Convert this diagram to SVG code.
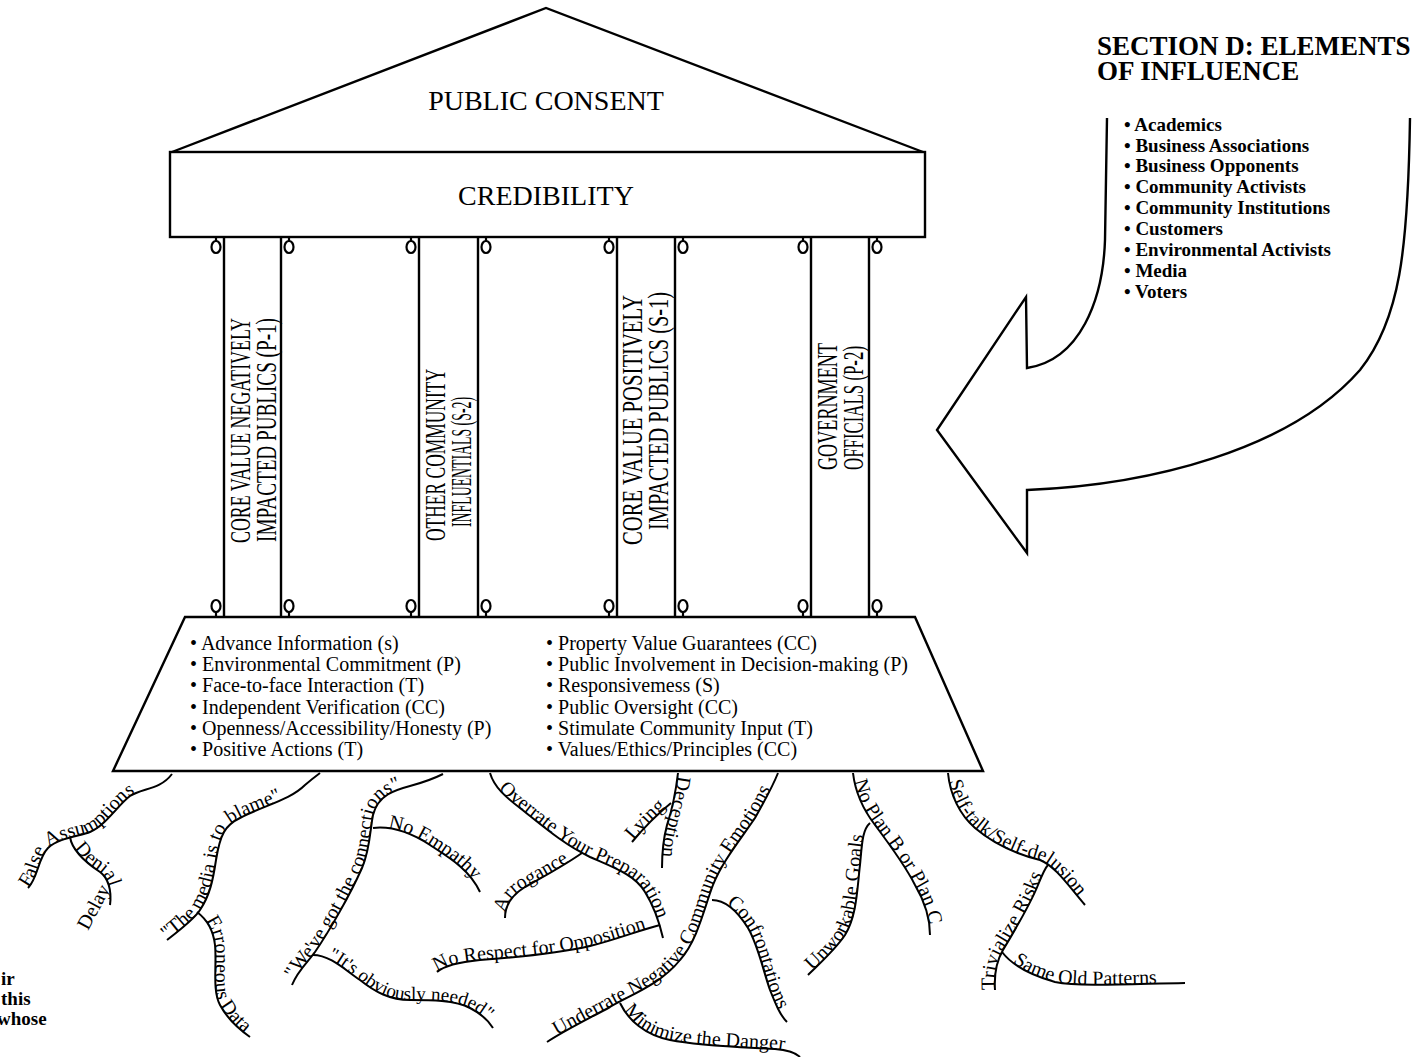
<svg xmlns="http://www.w3.org/2000/svg" xmlns:xlink="http://www.w3.org/1999/xlink" width="1420" height="1057" viewBox="0 0 1420 1057">
<style>
.ln{fill:none;stroke:#000;stroke-width:2.4;stroke-linejoin:miter}
.root{fill:none;stroke:#000;stroke-width:2}
.hk{fill:none;stroke:#000;stroke-width:2.2}
text{font-family:"Liberation Serif","Times New Roman",serif;fill:#000}
.rt{font-size:20px}
.col{font-size:29px}
.bt{font-size:20px}
.hd{font-size:27px;font-weight:bold}
.li{font-size:19px;font-weight:bold}
.big{font-size:28px}
</style>
<defs>
<g id="hkT"><line x1="0" y1="237" x2="0" y2="241" class="hk"/><ellipse cx="0" cy="247" rx="4.5" ry="6" class="hk"/></g>
<g id="hkB"><ellipse cx="0" cy="606" rx="4.5" ry="6" class="hk"/><line x1="0" y1="612" x2="0" y2="617" class="hk"/></g>
<path id="r_false" d="M28,888 C38,878 38,858 48,848 C58,838 80,836 90,832 C105,826 118,805 130,796 C142,788 160,790 172,774"/>
<path id="r_denial" d="M70,837 C72,850 85,862 100,872 C108,878 112,890 110,905"/>
<path id="r_media" d="M167,940 C180,930 195,918 200,910 C210,895 213,880 216,860 C220,835 225,825 240,818 C265,805 290,800 305,785 C312,779 316,776 320,773"/>
<path id="r_erroneous" d="M197,912 C205,918 213,928 215,945 C217,965 212,990 220,1005 C228,1020 240,1030 250,1037"/>
<path id="r_connections" d="M292,985 C298,970 308,962 315,952 C330,930 350,895 362,868 C370,850 370,830 373,815 C378,795 395,790 410,786 C425,782 435,778 443,774"/>
<path id="r_empathy" d="M373,828 C390,826 410,832 430,845 C450,858 470,870 480,892"/>
<path id="r_needed" d="M313,955 C330,955 345,970 360,980 C375,992 390,1000 410,1000 C430,1000 455,1000 470,1008 C480,1013 488,1020 493,1028"/>
<path id="r_overrate" d="M490,773 C495,790 510,800 525,812 C545,828 565,845 590,857 C615,868 635,875 645,892 C655,908 660,925 663,938"/>
<path id="r_arrogance" d="M505,918 C505,905 512,895 525,887 C545,876 565,865 582,853"/>
<path id="r_respect" d="M437,972 C445,965 460,962 480,960 C520,957 560,953 590,946 C615,940 640,930 660,925"/>
<path id="r_lying" d="M632,842 C642,830 655,816 671,803"/>
<path id="r_deception" d="M678,773 C676,790 672,810 667,825 C663,840 662,855 662,868"/>
<path id="r_underrate" d="M547,1042 C565,1030 590,1018 610,1007 C630,995 660,985 680,960 C698,940 705,905 713,885 C722,862 740,840 755,818 C765,800 772,788 778,773"/>
<path id="r_minimize" d="M620,1003 C628,1020 645,1035 670,1040 C700,1046 740,1047 775,1049 C788,1050 796,1053 800,1057"/>
<path id="r_confront" d="M712,900 C725,900 738,912 748,928 C758,945 763,970 770,990 C776,1005 780,1015 787,1022"/>
<path id="r_planb" d="M853,773 C855,790 862,808 875,825 C890,845 905,865 915,885 C925,902 930,918 930,935"/>
<path id="r_unworkable" d="M808,975 C818,965 835,950 845,935 C857,915 857,890 860,865 C862,845 862,830 870,823"/>
<path id="r_self" d="M948,773 C950,795 960,815 975,828 C995,845 1020,855 1040,860 C1055,866 1068,885 1085,905"/>
<path id="r_trivial" d="M995,990 C994,975 996,962 1003,950 C1015,930 1030,905 1038,885 C1042,875 1045,868 1048,865"/>
<path id="r_same" d="M1002,952 C1012,965 1030,975 1055,982 C1080,987 1130,984 1185,983"/>
</defs>
<rect x="0" y="0" width="1420" height="1057" fill="#fff"/>

<g id="roof">
<polyline class="ln" points="172,152 546,8 923,152"/>
<text class="big" x="546" y="110" text-anchor="middle">PUBLIC CONSENT</text>
</g>
<g id="entablature">
<rect class="ln" x="170" y="152" width="755" height="85" fill="#fff"/>
<text class="big" x="546" y="205" text-anchor="middle">CREDIBILITY</text>
</g>

<g id="column-p1">
<line class="ln" x1="224" y1="237" x2="224" y2="617"/><line class="ln" x1="281" y1="237" x2="281" y2="617"/>
<use href="#hkT" x="216"/><use href="#hkT" x="289"/><use href="#hkB" x="216"/><use href="#hkB" x="289"/>
<text class="col" transform="translate(250,543) rotate(-90)" textLength="225" lengthAdjust="spacingAndGlyphs">CORE VALUE NEGATIVELY</text>
<text class="col" transform="translate(276,542) rotate(-90)" textLength="224" lengthAdjust="spacingAndGlyphs">IMPACTED PUBLICS (P-1)</text>
</g>
<g id="column-s2">
<line class="ln" x1="419" y1="237" x2="419" y2="617"/><line class="ln" x1="478" y1="237" x2="478" y2="617"/>
<use href="#hkT" x="411"/><use href="#hkT" x="486"/><use href="#hkB" x="411"/><use href="#hkB" x="486"/>
<text class="col" transform="translate(445,541) rotate(-90)" textLength="172" lengthAdjust="spacingAndGlyphs">OTHER COMMUNITY</text>
<text class="col" transform="translate(471,527) rotate(-90)" textLength="130" lengthAdjust="spacingAndGlyphs">INFLUENTIALS (S-2)</text>
</g>
<g id="column-s1">
<line class="ln" x1="617" y1="237" x2="617" y2="617"/><line class="ln" x1="675" y1="237" x2="675" y2="617"/>
<use href="#hkT" x="609"/><use href="#hkT" x="683"/><use href="#hkB" x="609"/><use href="#hkB" x="683"/>
<text class="col" transform="translate(642,545) rotate(-90)" textLength="250" lengthAdjust="spacingAndGlyphs">CORE VALUE POSITIVELY</text>
<text class="col" transform="translate(668,530) rotate(-90)" textLength="238" lengthAdjust="spacingAndGlyphs">IMPACTED PUBLICS (S-1)</text>
</g>
<g id="column-p2">
<line class="ln" x1="811" y1="237" x2="811" y2="617"/><line class="ln" x1="869" y1="237" x2="869" y2="617"/>
<use href="#hkT" x="803"/><use href="#hkT" x="877"/><use href="#hkB" x="803"/><use href="#hkB" x="877"/>
<text class="col" transform="translate(837,470) rotate(-90)" textLength="127" lengthAdjust="spacingAndGlyphs">GOVERNMENT</text>
<text class="col" transform="translate(863,470) rotate(-90)" textLength="124" lengthAdjust="spacingAndGlyphs">OFFICIALS (P-2)</text>
</g>

<g id="base">
<polygon class="ln" points="185,617 915,617 983,771 113,771" fill="#fff"/>
<text class="bt" x="190" y="650">• Advance Information (s)</text>
<text class="bt" x="190" y="671">• Environmental Commitment (P)</text>
<text class="bt" x="190" y="692">• Face-to-face Interaction (T)</text>
<text class="bt" x="190" y="714">• Independent Verification (CC)</text>
<text class="bt" x="190" y="735">• Openness/Accessibility/Honesty (P)</text>
<text class="bt" x="190" y="756">• Positive Actions (T)</text>
<text class="bt" x="546" y="650">• Property Value Guarantees (CC)</text>
<text class="bt" x="546" y="671">• Public Involvement in Decision-making (P)</text>
<text class="bt" x="546" y="692">• Responsivemess (S)</text>
<text class="bt" x="546" y="714">• Public Oversight (CC)</text>
<text class="bt" x="546" y="735">• Stimulate Community Input (T)</text>
<text class="bt" x="546" y="756">• Values/Ethics/Principles (CC)</text>
</g>

<g id="section-d">
<text class="hd" x="1097" y="55">SECTION D: ELEMENTS</text>
<text class="hd" x="1097" y="80">OF INFLUENCE</text>
<text class="li" x="1124" y="131">• Academics</text>
<text class="li" x="1124" y="152">• Business Associations</text>
<text class="li" x="1124" y="172">• Business Opponents</text>
<text class="li" x="1124" y="193">• Community Activists</text>
<text class="li" x="1124" y="214">• Community Institutions</text>
<text class="li" x="1124" y="235">• Customers</text>
<text class="li" x="1124" y="256">• Environmental Activists</text>
<text class="li" x="1124" y="277">• Media</text>
<text class="li" x="1124" y="298">• Voters</text>
</g>
<g id="influence-arrow">
<path class="ln" d="M1107,118 L1105,240 C1103,300 1080,360 1027,368 L1026,297 L937,430 L1027,553 L1027,490 C1150,485 1290,450 1360,370 C1400,320 1408,250 1410,118"/>
</g>

<g id="left-note">
<text class="li" x="1" y="985">ir</text>
<text class="li" x="1" y="1005">this</text>
<text class="li" x="-3" y="1025">whose</text>
</g>

<g id="connectors">
<use href="#r_false" class="root"/><use href="#r_denial" class="root"/><use href="#r_media" class="root"/>
<use href="#r_erroneous" class="root"/><use href="#r_connections" class="root"/><use href="#r_empathy" class="root"/>
<use href="#r_needed" class="root"/><use href="#r_overrate" class="root"/><use href="#r_arrogance" class="root"/>
<use href="#r_respect" class="root"/><use href="#r_lying" class="root"/><use href="#r_deception" class="root"/>
<use href="#r_underrate" class="root"/><use href="#r_minimize" class="root"/><use href="#r_confront" class="root"/>
<use href="#r_planb" class="root"/><use href="#r_unworkable" class="root"/><use href="#r_self" class="root"/>
<use href="#r_trivial" class="root"/><use href="#r_same" class="root"/>
<text class="rt"><textPath href="#r_false" startOffset="0">False Assumptions</textPath></text>
<text class="rt"><textPath href="#r_denial" startOffset="12">Denial</textPath></text>
<text class="rt" transform="translate(88,931) rotate(-62)">Delay</text>
<text class="rt"><textPath href="#r_media" startOffset="0">"The media is to blame"</textPath></text>
<text class="rt"><textPath href="#r_erroneous" startOffset="12">Erroneous Data</textPath></text>
<text class="rt"><textPath href="#r_connections" startOffset="6">"We've got the connections"</textPath></text>
<text class="rt"><textPath href="#r_empathy" startOffset="15">No Empathy</textPath></text>
<text class="rt" style="font-size:19px"><textPath href="#r_needed" startOffset="15">"It's obviously needed"</textPath></text>
<text class="rt"><textPath href="#r_overrate" startOffset="18">Overrate Your Preparation</textPath></text>
<text class="rt"><textPath href="#r_arrogance" startOffset="5">Arrogance</textPath></text>
<text class="rt"><textPath href="#r_respect" startOffset="0">No Respect for Opposition</textPath></text>
<text class="rt"><textPath href="#r_lying" startOffset="2">Lying</textPath></text>
<text class="rt"><textPath href="#r_deception" startOffset="3">Deception</textPath></text>
<text class="rt"><textPath href="#r_underrate" startOffset="12">Underrate Negative Community Emotions</textPath></text>
<text class="rt"><textPath href="#r_minimize" startOffset="8">Minimize the Danger</textPath></text>
<text class="rt"><textPath href="#r_confront" startOffset="15">Confrontations</textPath></text>
<text class="rt"><textPath href="#r_planb" startOffset="8">No Plan B or Plan C</textPath></text>
<text class="rt"><textPath href="#r_unworkable" startOffset="6">Unworkable Goals</textPath></text>
<text class="rt"><textPath href="#r_self" startOffset="8">Self-talk/Self-delusion</textPath></text>
<text class="rt"><textPath href="#r_trivial" startOffset="0">Trivialize Risks</textPath></text>
<text class="rt"><textPath href="#r_same" startOffset="15">Same Old Patterns</textPath></text>
</g>
</svg>
